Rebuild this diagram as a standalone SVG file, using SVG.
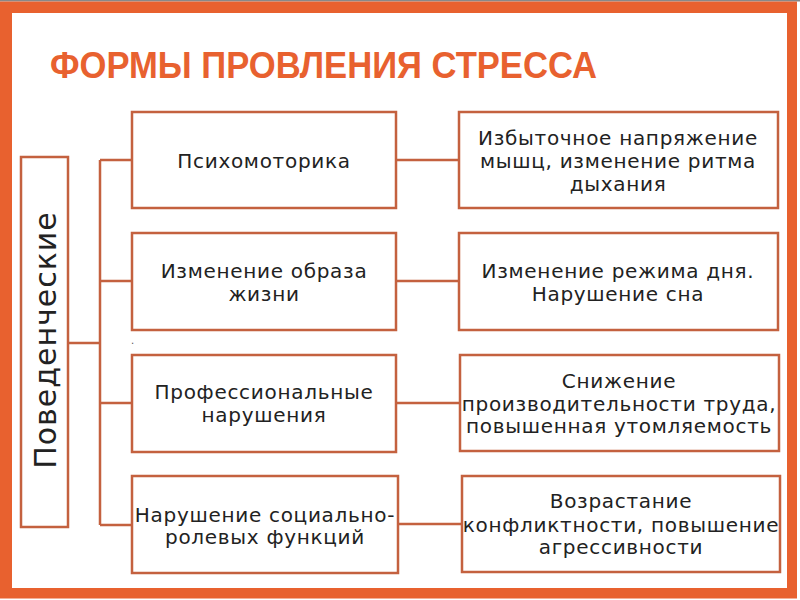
<svg xmlns="http://www.w3.org/2000/svg" width="800" height="600" viewBox="0 0 800 600">
<style>
.box{fill:#fff;stroke:#C4613F;stroke-width:2.5}
.ln{stroke:#C4613F;stroke-width:2.5;fill:none}
.t{font-family:"DejaVu Sans","Liberation Sans",sans-serif;font-size:20px;fill:#222;text-anchor:middle;letter-spacing:0.7px}
.title{font-family:"Liberation Sans",Arial,sans-serif;font-weight:bold;font-size:36px;fill:#E8612F}
</style>
<rect x="0" y="0" width="800" height="600" fill="#fff"/>
<rect x="0" y="0" width="800" height="1.5" fill="#888"/>
<rect x="0" y="1.5" width="797" height="597" fill="#E8612F"/>
<rect x="12" y="13" width="775" height="575" fill="#fff"/>
<text class="title" x="50" y="78" textLength="547" lengthAdjust="spacingAndGlyphs">ФОРМЫ ПРОВЛЕНИЯ СТРЕССА</text>

<g id="connectors">
<path class="ln" d="M68,343 H100 M100,160 V525 M100,160 H132 M100,281 H132 M100,403 H132 M100,525 H132"/>
<path class="ln" d="M396,160 H459 M396,281 H459 M396,403 H460 M398,524 H462"/>
</g>

<g id="root">
<rect class="box" x="21" y="157" width="47" height="370"/>
<text class="t" style="font-size:30px;letter-spacing:1px" transform="translate(56,340) rotate(-90)">Поведенческие</text>
</g>

<g id="m1"><rect class="box" x="132" y="112" width="264" height="96"/>
<text class="t" x="264" y="168">Психомоторика</text></g>
<g id="m2"><rect class="box" x="132" y="233" width="264" height="97"/>
<text class="t" x="264" y="278">Изменение образа</text><text class="t" x="264" y="301">жизни</text></g>
<g id="m3"><rect class="box" x="132" y="355" width="264" height="97"/>
<text class="t" x="264" y="399">Профессиональные</text><text class="t" x="264" y="422">нарушения</text></g>
<g id="m4"><rect class="box" x="132" y="476" width="266" height="97"/>
<text class="t" x="265" y="522">Нарушение социально-</text><text class="t" x="265" y="544">ролевых функций</text></g>

<g id="r1"><rect class="box" x="459" y="112" width="319" height="96"/>
<text class="t" x="618" y="145">Избыточное напряжение</text><text class="t" x="618" y="168">мышц, изменение ритма</text><text class="t" x="618" y="191">дыхания</text></g>
<g id="r2"><rect class="box" x="459" y="233" width="319" height="97"/>
<text class="t" x="618" y="278">Изменение режима дня.</text><text class="t" x="618" y="301">Нарушение сна</text></g>
<g id="r3"><rect class="box" x="460" y="355" width="319" height="96"/>
<text class="t" x="619" y="388">Снижение</text><text class="t" x="619" y="411">производительности труда,</text><text class="t" x="619" y="433">повышенная утомляемость</text></g>
<g id="r4"><rect class="box" x="462" y="476" width="318" height="96"/>
<text class="t" x="621" y="508">Возрастание</text><text class="t" x="621" y="532">конфликтности, повышение</text><text class="t" x="621" y="554">агрессивности</text></g>

<text x="131" y="344" style="font-family:'DejaVu Sans',sans-serif;font-size:10px;fill:#555">.</text>
</svg>
